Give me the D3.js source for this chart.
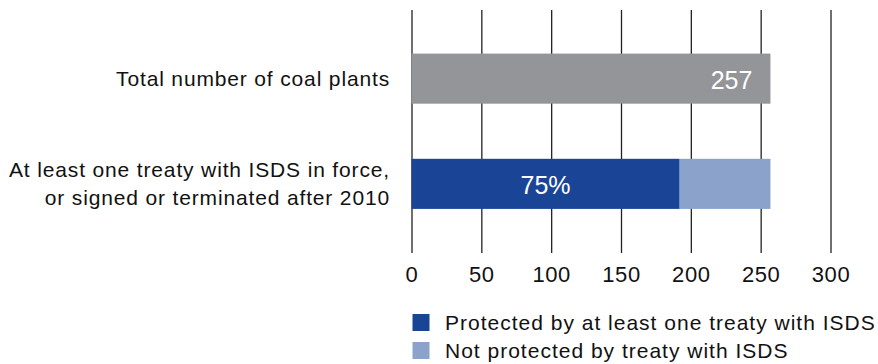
<!DOCTYPE html>
<html>
<head>
<meta charset="utf-8">
<script src="https://cdn.jsdelivr.net/npm/d3@7"></script>
<style>
  html, body { margin: 0; padding: 0; background: #fff; }
  svg { display: block; font-family: "Liberation Sans", Arial, Helvetica, sans-serif; }
</style>
</head>
<body>
<svg id="chart" width="878" height="364"></svg>
<script>
// ---- data ----
const categories = ["total", "treaty"];
const categoryLabels = [
  ["Total number of coal plants"],
  ["At least one treaty with ISDS in force,", "or signed or terminated after 2010"]
];
const totalValues = [257, 0];
const protectedValues = [0, 192];
const notProtectedValues = [0, 65];
const barLabels = ["257", "75%"];
const xTicks = [0, 50, 100, 150, 200, 250, 300];
const legendLabels = ["Protected by at least one treaty with ISDS", "Not protected by treaty with ISDS"];

// ---- styles ----
const colGray = "#939598";
const colDark = "#1a4597";
const colLight = "#8ba3cb";
const fontSize = 21;
const letterSp = "0.85px";

const svg = d3.select("#chart");

const x = d3.scaleLinear().domain([0, 300]).range([411.5, 830.5]);
const y = d3.scaleBand().domain(categories).range([10, 252.5])
  .paddingInner(55 / 105).paddingOuter(0.4143);

// gridlines + tick labels
const axis = d3.axisBottom(x).tickValues(xTicks).tickSize(-243).tickPadding(14).tickFormat(d3.format("d"));
const gAxis = svg.append("g").attr("transform", "translate(0,253)").call(axis);
gAxis.select(".domain").remove();
gAxis.selectAll(".tick line").attr("stroke", "#222").attr("stroke-width", 1.3);
gAxis.selectAll(".tick text")
  .attr("fill", "#111")
  .attr("dy", "0.66em")
  .style("font-size", "22px")
  .style("letter-spacing", "0.6px")
  .style("font-family", '"Liberation Sans", Arial, sans-serif');

// bars
const bars = svg.append("g");
categories.forEach((c, i) => {
  if (totalValues[i] > 0) {
    bars.append("rect").attr("x", x(0)).attr("y", y(c))
      .attr("width", x(totalValues[i]) - x(0)).attr("height", y.bandwidth()).attr("fill", colGray);
  }
  if (protectedValues[i] > 0) {
    bars.append("rect").attr("x", x(0)).attr("y", y(c))
      .attr("width", x(protectedValues[i]) - x(0)).attr("height", y.bandwidth()).attr("fill", colDark);
  }
  if (notProtectedValues[i] > 0) {
    bars.append("rect").attr("x", x(protectedValues[i])).attr("y", y(c))
      .attr("width", x(protectedValues[i] + notProtectedValues[i]) - x(protectedValues[i]))
      .attr("height", y.bandwidth()).attr("fill", colLight);
  }
});

// bar value labels
const cy = c => y(c) + y.bandwidth() / 2;
svg.append("text")
  .attr("x", x(totalValues[0]) - 18).attr("y", cy(categories[0]) + 10)
  .attr("text-anchor", "end").attr("fill", "#fff")
  .style("font-size", "25px").text(barLabels[0]);
svg.append("text")
  .attr("x", (x(0) + x(protectedValues[1])) / 2).attr("y", cy(categories[1]) + 10)
  .attr("text-anchor", "middle").attr("fill", "#fff")
  .style("font-size", "25px").text(barLabels[1]);

// category labels
categories.forEach((c, i) => {
  const lines = categoryLabels[i];
  const n = lines.length;
  lines.forEach((ln, j) => {
    svg.append("text")
      .attr("x", 390)
      .attr("y", cy(c) + 7 + (j - (n - 1) / 2) * 28)
      .attr("text-anchor", "end").attr("fill", "#111")
      .style("font-size", fontSize + "px")
      .style("letter-spacing", letterSp)
      .text(ln);
  });
});

// legend
const legColors = [colDark, colLight];
legendLabels.forEach((l, i) => {
  const ly = 314 + i * 28;
  svg.append("rect").attr("x", 412.5).attr("y", ly).attr("width", 17).attr("height", 17).attr("fill", legColors[i]);
  svg.append("text").attr("x", 445).attr("y", ly + 16)
    .attr("fill", "#111")
    .style("font-size", fontSize + "px")
    .style("letter-spacing", "1px")
    .text(l);
});
</script>
</body>
</html>
